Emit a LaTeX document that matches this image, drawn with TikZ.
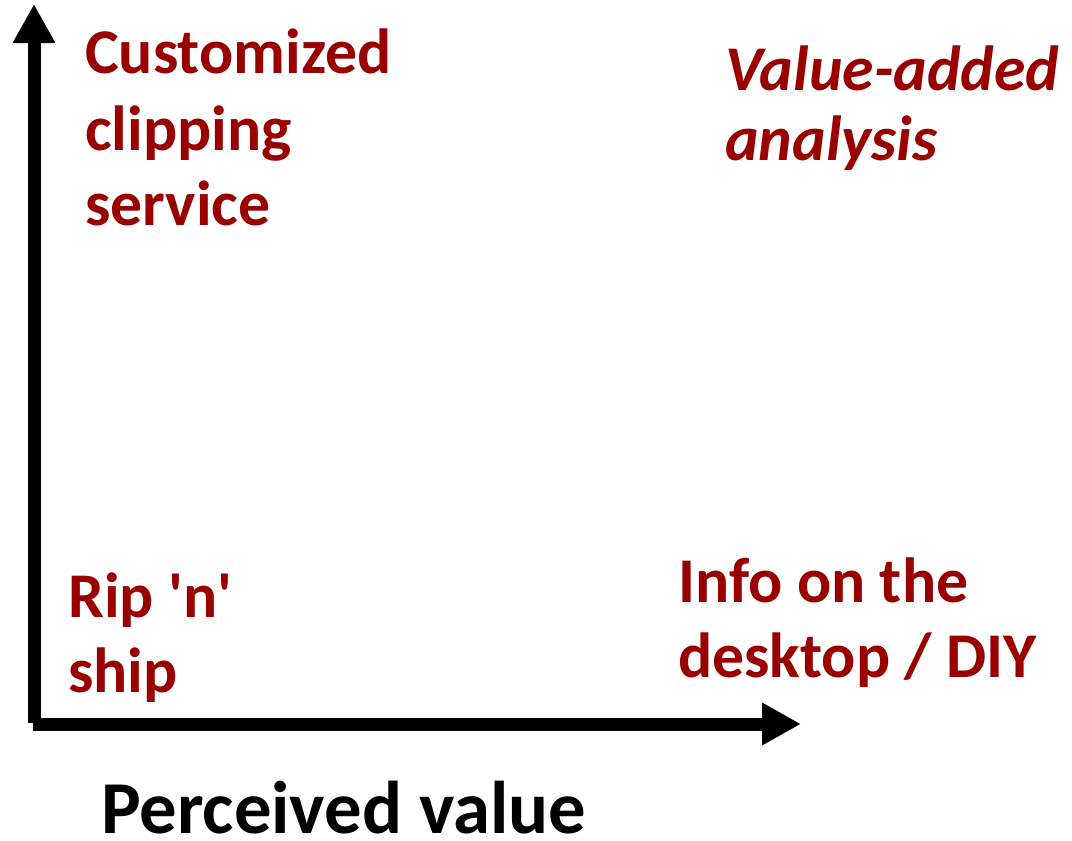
\documentclass[tikz,border=0pt]{standalone}
\usepackage{fontspec}
\setmainfont{Carlito}
\usetikzlibrary{arrows.meta}
\definecolor{darkred}{RGB}{153,0,0}
\tikzset{
  lbl/.style={anchor=base west, inner sep=0pt, text=darkred, font=\fontsize{47.8}{57}\selectfont\bfseries},
  lblit/.style={lbl, font=\fontsize{47.8}{57}\selectfont\bfseries\itshape},
  axislbl/.style={anchor=base west, inner sep=0pt, text depth=0pt, text=black, font=\fontsize{56}{67}\selectfont\bfseries},
  axis/.style={line width=9.75pt, black},
  vtip/.style={-{Triangle[width=30pt, length=29.25pt]}},
}
\begin{document}
\begin{tikzpicture}[x=0.75pt, y=-0.75pt]
\useasboundingbox (0,0) rectangle (1072,840);
% axes
\coordinate (vbot) at (34,723);
\coordinate (vtop) at (34,4);
\coordinate (hleft) at (33,724);
\coordinate (hright) at (801,724);
\draw[axis, vtip] (vbot) -- (vtop);
\draw[axis, vtip] (hleft) -- (hright);
% labels
\node[lbl] (cust1) at (85,73) {Customized};
\node[lbl] (cust2) at (85,150) {clipping};
\node[lbl] (cust3) at (85,225) {service};
\node[lblit] (val1) at (725,90) {Value-added};
\node[lblit] (val2) at (725,160) {analysis};
\node[lbl] (rip1) at (68,617) {Rip \textquotesingle n\textquotesingle};
\node[lbl] (rip2) at (68,692) {ship};
\node[lbl] (info1) at (678,602) {Info on the};
\node[lbl] (info2) at (678,677) {desktop / DIY};
\node[axislbl] (xlabel) at (101,833) {Perceived value};
\end{tikzpicture}
\end{document}
